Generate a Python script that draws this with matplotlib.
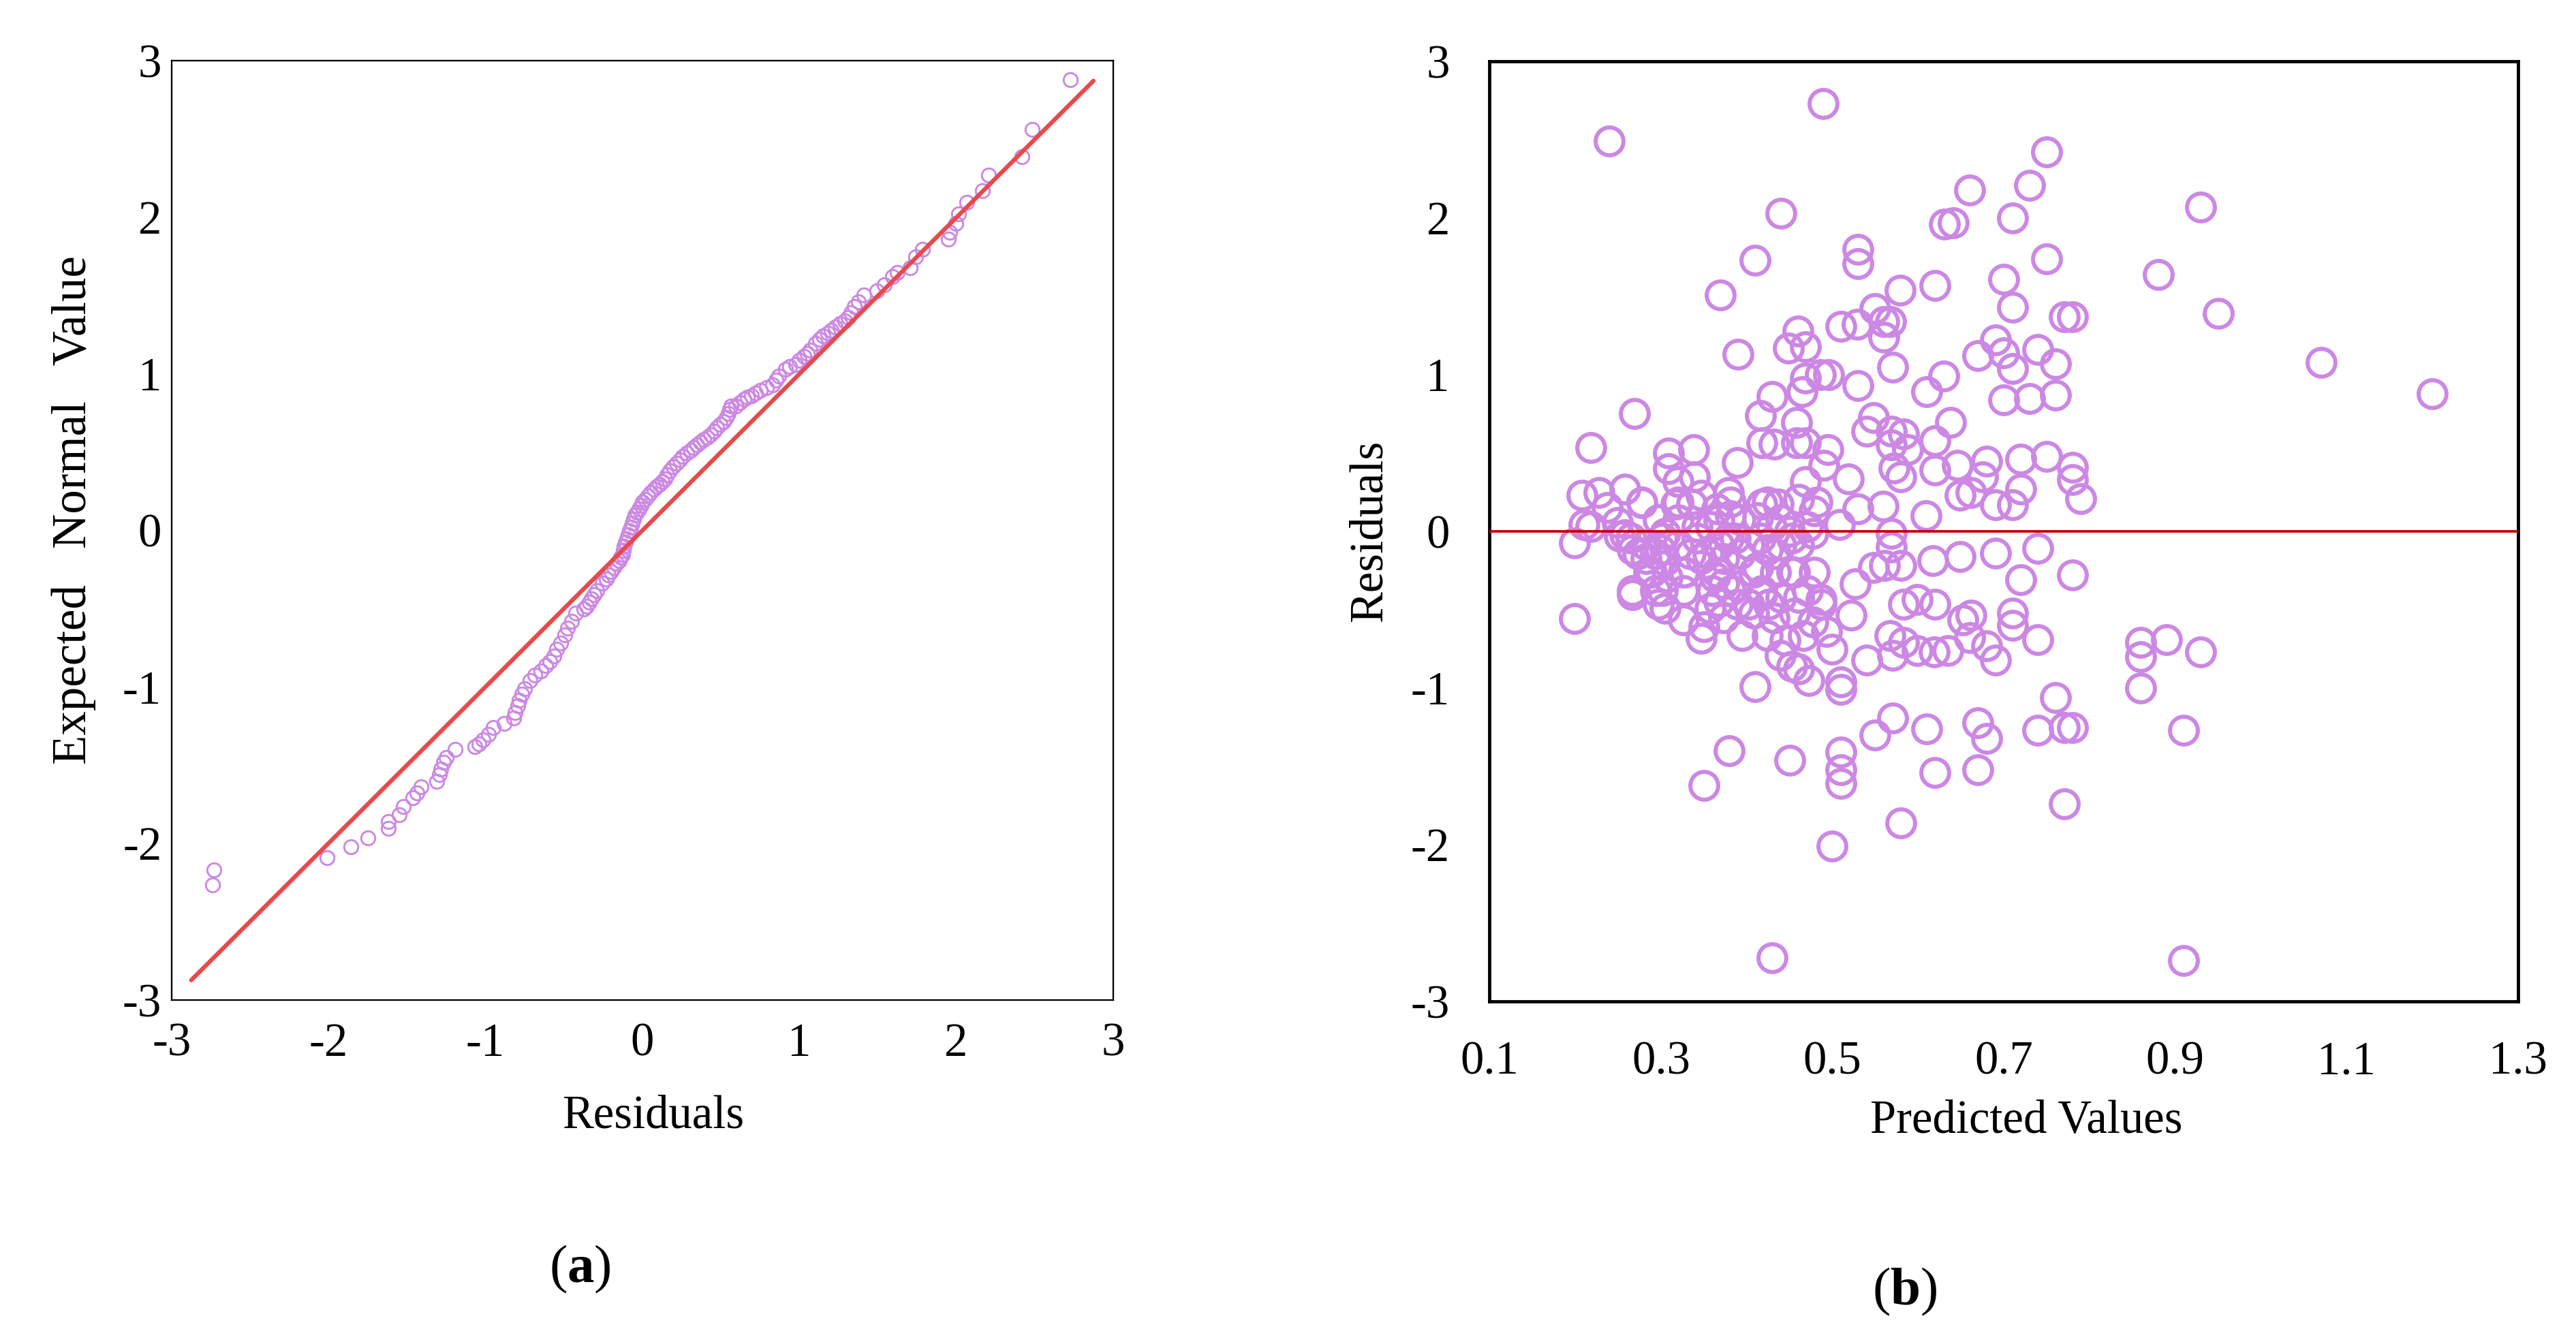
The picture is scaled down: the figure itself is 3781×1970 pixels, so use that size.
import matplotlib
matplotlib.use("Agg")
import matplotlib.pyplot as plt

plt.rcParams['font.family'] = ['Liberation Serif', 'DejaVu Serif']
plt.rcParams['mathtext.fontset'] = 'custom'
plt.rcParams['mathtext.rm'] = 'Liberation Serif'
plt.rcParams['mathtext.bf'] = 'Liberation Serif:bold'
plt.rcParams['axes.unicode_minus'] = False

# ---------------- Panel (a): normal Q-Q plot of residuals ----------------
qq_residual = [
    -2.739, -2.730, -2.009, -1.858, -1.747, -1.618, -1.617, -1.549, -1.524, -1.464,
    -1.437, -1.412, -1.309, -1.292, -1.283, -1.266, -1.249, -1.192, -1.069, -1.043,
    -1.017, -0.982, -0.948, -0.880, -0.820, -0.811, -0.794, -0.785, -0.768, -0.751,
    -0.717, -0.683, -0.648, -0.614, -0.588, -0.562, -0.545, -0.519, -0.493, -0.476,
    -0.450, -0.424, -0.373, -0.356, -0.339, -0.323, -0.306, -0.290, -0.256, -0.231,
    -0.215, -0.198, -0.181, -0.165, -0.148, -0.136, -0.123, -0.120, -0.115, -0.106,
    -0.098, -0.090, -0.081, -0.073, -0.065, -0.056, -0.048, -0.036, -0.023, -0.010,
    0.001, 0.018, 0.035, 0.055, 0.076, 0.093, 0.109, 0.126, 0.142, 0.159,
    0.176, 0.196, 0.217, 0.239, 0.259, 0.284, 0.309, 0.328, 0.350, 0.372,
    0.392, 0.412, 0.433, 0.455, 0.475, 0.495, 0.516, 0.533, 0.550, 0.558,
    0.566, 0.596, 0.620, 0.646, 0.670, 0.695, 0.720, 0.754, 0.790, 0.828,
    0.850, 0.870, 0.911, 0.940, 0.978, 1.000, 1.028, 1.050, 1.069, 1.103,
    1.130, 1.153, 1.180, 1.203, 1.230, 1.261, 1.290, 1.310, 1.330, 1.352,
    1.377, 1.410, 1.493, 1.543, 1.593, 1.626, 1.709, 1.742, 1.784, 1.950,
    1.959, 2.000, 2.017, 2.067, 2.166, 2.207, 2.418, 2.485, 2.727,
]
qq_expected = [
    -2.265, -2.167, -2.090, -2.021, -1.964, -1.904, -1.861, -1.818, -1.763, -1.707,
    -1.677, -1.638, -1.603, -1.560, -1.526, -1.483, -1.449, -1.397, -1.380, -1.363,
    -1.337, -1.303, -1.260, -1.234, -1.199, -1.165, -1.122, -1.087, -1.045, -1.010,
    -0.958, -0.924, -0.898, -0.864, -0.838, -0.803, -0.761, -0.718, -0.666, -0.623,
    -0.580, -0.528, -0.503, -0.486, -0.461, -0.436, -0.411, -0.386, -0.336, -0.311,
    -0.286, -0.261, -0.236, -0.211, -0.195, -0.173, -0.153, -0.128, -0.103, -0.078,
    -0.053, -0.028, -0.003, 0.021, 0.046, 0.071, 0.096, 0.116, 0.138, 0.159,
    0.180, 0.200, 0.221, 0.242, 0.263, 0.279, 0.296, 0.313, 0.330, 0.355,
    0.380, 0.405, 0.430, 0.450, 0.471, 0.493, 0.513, 0.530, 0.546, 0.563,
    0.579, 0.596, 0.613, 0.633, 0.654, 0.676, 0.696, 0.721, 0.746, 0.771,
    0.796, 0.794, 0.815, 0.836, 0.850, 0.861, 0.875, 0.894, 0.910, 0.928,
    0.960, 0.986, 1.028, 1.045, 1.061, 1.085, 1.111, 1.130, 1.152, 1.194,
    1.220, 1.244, 1.260, 1.277, 1.300, 1.319, 1.340, 1.361, 1.390, 1.428,
    1.461, 1.503, 1.528, 1.570, 1.620, 1.645, 1.678, 1.745, 1.795, 1.862,
    1.904, 1.962, 2.020, 2.095, 2.170, 2.270, 2.387, 2.562, 2.878,
]
ref_line_x = [-2.875, 2.875]
ref_line_y = [-2.873, 2.871]

# ---------------- Panel (b): residuals vs predicted values ----------------
pred_values = [
    # upper region
    0.240, 0.489, 0.440, 0.410, 0.369, 0.390, 0.530, 0.530, 0.660, 0.631,
    0.641, 0.710, 0.700, 0.620, 0.579, 0.710, 0.550, 0.510, 0.529, 0.560,
    0.568, 0.560, 0.570, 0.460, 0.449, 0.469, 0.690, 0.670, 0.700, 0.710,
    0.700, 0.630, 0.610, 0.530, 0.496, 0.486, 0.469, 0.465, 0.430, 0.680,
    0.690, 0.710,
    # left part of the central cluster
    0.269, 0.218, 0.338, 0.309, 0.309, 0.389, 0.208, 0.228, 0.258, 0.278,
    0.237, 0.210, 0.218, 0.199, 0.199, 0.267, 0.258, 0.320, 0.339, 0.318,
    0.336, 0.379, 0.305, 0.283, 0.267, 0.299, 0.320, 0.289, 0.307, 0.326,
    0.305, 0.326, 0.350, 0.357, 0.368, 0.347, 0.363, 0.373, 0.389, 0.342,
    0.358, 0.368, 0.387, 0.365, 0.381, 0.395, 0.389, 0.347, 0.249, 0.252,
    0.347, 0.373, 0.283, 0.305, 0.326, 0.294, 0.373,
    # right part of the central cluster
    0.416, 0.458, 0.418, 0.432, 0.458, 0.469, 0.495, 0.490, 0.519, 0.469,
    0.461, 0.418, 0.437, 0.479, 0.508, 0.530, 0.559, 0.609, 0.569, 0.569,
    0.548, 0.580, 0.561, 0.527, 0.617, 0.649, 0.540, 0.548, 0.569, 0.569,
    0.583, 0.588, 0.572, 0.580, 0.620, 0.638, 0.620, 0.646, 0.649, 0.662,
    0.675, 0.583, 0.599, 0.620, 0.652, 0.662, 0.567, 0.583, 0.522, 0.660,
    0.413, 0.429, 0.450, 0.471, 0.477, 0.403, 0.424, 0.440, 0.461, 0.413,
    0.434, 0.456, 0.479, 0.418, 0.440, 0.461, 0.487, 0.408, 0.432, 0.456,
    0.477, 0.424, 0.445, 0.466, 0.493,
    # dense core of the cluster
    0.265, 0.302, 0.342, 0.379, 0.416, 0.453,
    0.273, 0.294, 0.334, 0.355, 0.392, 0.434,
    0.286, 0.328, 0.365, 0.408, 0.453,
    0.267, 0.302, 0.360, 0.381, 0.418, 0.471,
    0.297, 0.403, 0.426, 0.487,
    0.297, 0.320, 0.368, 0.392, 0.440,
    0.278, 0.320, 0.381, 0.424, 0.482,
    # lower region
    0.410, 0.380, 0.350, 0.450, 0.510, 0.510, 0.510, 0.500, 0.430, 0.580,
    0.550, 0.570, 0.610, 0.620, 0.670, 0.680, 0.670, 0.510, 0.510, 0.473,
    0.461, 0.453, 0.439, 0.500, 0.540, 0.570, 0.599, 0.619, 0.635, 0.690,
    0.680, 0.690, 0.710, 0.710,
    # high predicted values
    0.750, 0.730, 0.930, 0.750, 0.880, 0.771, 0.780, 0.950, 1.070, 1.200,
    0.740, 0.760, 0.730, 0.760, 0.720, 0.750, 0.780, 0.780, 0.720, 0.790,
    0.740, 0.720, 0.780, 0.740, 0.860, 0.860, 0.890, 0.930, 0.860, 0.760,
    0.740, 0.771, 0.780, 0.910, 0.771, 0.910,
]
residual_values = [
    # upper region
    2.49, 2.73, 2.03, 1.73, 1.51, 1.13, 1.80, 1.71, 2.18, 1.96,
    1.97, 2.00, 1.61, 1.57, 1.54, 1.43, 1.42, 1.31, 1.32, 1.34,
    1.34, 1.24, 1.05, 1.28, 1.17, 1.18, 1.22, 1.12, 1.14, 1.04,
    0.84, 0.99, 0.89, 0.93, 1.00, 1.00, 0.98, 0.89, 0.86, 0.45,
    0.17, 0.17,
    # left part of the central cluster
    0.754, 0.533, 0.522, 0.500, 0.399, 0.439, 0.232, 0.246, 0.268, 0.181,
    0.152, 0.043, 0.029, -0.072, -0.558, -0.406, -0.022, 0.319, 0.348, 0.174,
    0.174, 0.246, -0.014, -0.087, -0.116, -0.116, -0.087, -0.260, -0.290, -0.260,
    -0.493, -0.565, -0.609, -0.493, -0.449, -0.681, -0.290, -0.333, -0.348, 0.029,
    0.029, -0.087, -0.043, 0.145, 0.102, -0.667, -0.464, 0.232, 0.058, -0.029,
    -0.174, -0.174, -0.174, -0.188, -0.377, -0.377, -0.551,
    # right part of the central cluster
    0.739, 0.696, 0.565, 0.558, 0.565, 0.565, 0.522, 0.420, 0.333, 0.319,
    0.203, 0.174, 0.174, 0.131, 0.043, 0.145, 0.159, 0.101, -0.014, -0.101,
    -0.232, -0.217, -0.217, -0.333, -0.188, -0.159, 0.638, 0.725, 0.638, 0.551,
    0.623, 0.522, 0.406, 0.348, 0.580, 0.696, 0.391, 0.420, 0.232, 0.246,
    0.348, -0.464, -0.435, -0.464, -0.565, -0.536, -0.667, -0.710, -0.536, -0.680,
    0.087, 0.029, 0.000, 0.029, -0.014, -0.087, -0.116, -0.087, -0.087, -0.232,
    -0.261, -0.261, -0.261, -0.406, -0.420, -0.420, -0.435, -0.522, -0.551, -0.522,
    -0.580, -0.667, -0.696, -0.667, -0.638,
    # dense core of the cluster
    -0.043, -0.043, -0.043, -0.043, -0.043, -0.043,
    -0.145, -0.145, -0.145, -0.145, -0.145, -0.145,
    -0.261, -0.261, -0.261, -0.261, -0.261,
    -0.377, -0.377, -0.377, -0.377, -0.377, -0.377,
    -0.464, -0.464, -0.464, -0.464,
    0.072, 0.072, 0.072, 0.072, 0.072,
    0.188, 0.188, 0.188, 0.188, 0.188,
    # lower region
    -0.99, -1.40, -1.62, -1.46, -1.41, -1.52, -1.61, -2.01, -2.72, -1.86,
    -1.30, -1.19, -1.26, -1.54, -1.22, -1.32, -1.52, -1.01, -0.96, -0.95,
    -0.88, -0.86, -0.79, -0.75, -0.82, -0.79, -0.76, -0.77, -0.76, -0.82,
    -0.73, -0.14, -0.52, -0.60,
    # high predicted values
    2.42, 2.21, 2.07, 1.74, 1.64, 1.37, 1.37, 1.39, 1.08, 0.88,
    1.16, 1.07, 0.85, 0.87, 0.46, 0.48, 0.41, 0.33, 0.27, 0.21,
    -0.11, -0.31, -0.28, -0.69, -0.71, -0.80, -0.69, -0.77, -1.00, -1.06,
    -1.27, -1.25, -1.25, -1.27, -1.74, -2.74,
]

a_ticks = [-3, -2, -1, 0, 1, 2, 3]
b_xticks = [0.1, 0.3, 0.5, 0.7, 0.9, 1.1, 1.3]
b_yticks = [-3, -2, -1, 0, 1, 2, 3]

ring_color = '#CC88E4'
fs = 16.5

fig = plt.figure(figsize=(12.6035, 6.5667), dpi=300)
fig.patch.set_facecolor('white')

# ---- panel a ----
axa = fig.add_axes([0.0666, 0.2548, 0.3655, 0.7000])
axa.plot(qq_residual, qq_expected, linestyle='none', marker='o', ms=4.9,
         mfc='none', mec=ring_color, mew=0.7, zorder=2)
axa.plot(ref_line_x, ref_line_y, color='#E84A4C', lw=1.5,
         solid_capstyle='round', zorder=3)
axa.set_xlim(-3, 3)
axa.set_ylim(-3, 3)
axa.set_xticks(a_ticks)
axa.set_yticks(a_ticks)
axa.set_xticklabels([str(t) for t in a_ticks])
axa.set_yticklabels([str(t) for t in a_ticks])
axa.tick_params(axis='x', length=0, pad=8, labelsize=fs)
axa.tick_params(axis='y', length=0, pad=3.5, labelsize=fs)
for sp in axa.spines.values():
    sp.set_linewidth(0.55)
    sp.set_color('black')

# ---- panel b ----
axb = fig.add_axes([0.5782, 0.2538, 0.3993, 0.7005])
axb.plot(pred_values, residual_values, linestyle='none', marker='o', ms=9.8,
         mfc='none', mec=ring_color, mew=1.45, zorder=2)
axb.axhline(0, color='#C00000', lw=0.9, zorder=3)
axb.set_xlim(0.1, 1.3)
axb.set_ylim(-3, 3)
axb.set_xticks(b_xticks)
axb.set_yticks(b_yticks)
axb.set_xticklabels([f"{t:.1f}" for t in b_xticks])
axb.set_yticklabels([str(t) for t in b_yticks])
axb.tick_params(axis='both', length=0, pad=14, labelsize=fs)
for sp in axb.spines.values():
    sp.set_linewidth(1.15)
    sp.set_color('black')

# ---- labels ----
fig.text(0.0286, 0.6198, 'Expected   Normal   Value', rotation=90,
         ha='center', va='center', fontsize=17)
fig.text(0.2536, 0.1680, 'Residuals', ha='center', va='center', fontsize=fs)
fig.text(0.2251, 0.0540, r'($\mathbf{a}$)', ha='center', va='center', fontsize=19)

fig.text(0.5319, 0.6041, 'Residuals', rotation=90,
         ha='center', va='center', fontsize=fs)
fig.text(0.7866, 0.1645, 'Predicted Values', ha='center', va='center', fontsize=fs)
fig.text(0.7395, 0.0376, r'($\mathbf{b}$)', ha='center', va='center', fontsize=19)

fig.savefig('out.png', dpi=300, facecolor='white')
